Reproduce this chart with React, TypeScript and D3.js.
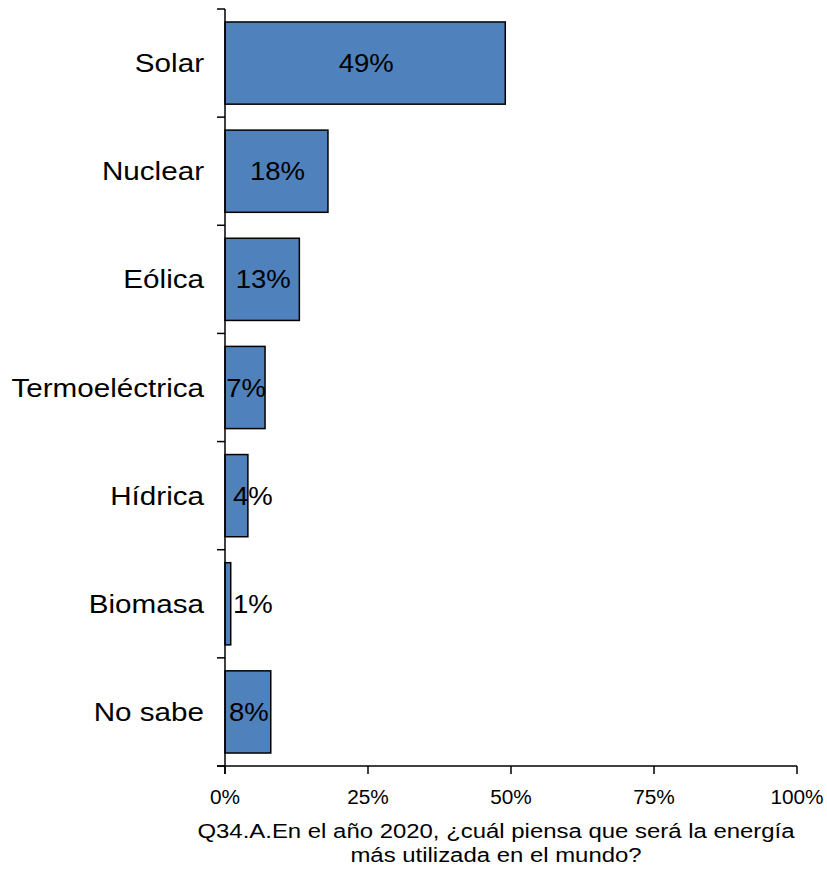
import React from "react";
import * as d3 from "d3";

const categories = ["Solar", "Nuclear", "Eólica", "Termoeléctrica", "Hídrica", "Biomasa", "No sabe"];
const values = [49, 18, 13, 7, 4, 1, 8];
const xTicks = [0, 25, 50, 75, 100];
const titleLines = [
  "Q34.A.En el año 2020, ¿cuál piensa que será la energía",
  "más utilizada en el mundo?",
];

const W = 827;
const H = 869;
const FONT = "'Liberation Sans', Arial, sans-serif";

export default function App() {
  const x = d3.scaleLinear().domain([0, 100]).range([225, 797]);
  const y = d3
    .scaleBand<string>()
    .domain(categories)
    .range([9, 766])
    .paddingInner(0.24)
    .paddingOuter(0.12);
  const step = y.step();
  const bw = y.bandwidth();
  const boundaries = categories.map((c) => (y(c) as number) - (step - bw) / 2);
  boundaries.push(766);
  const x0 = x(0);
  const axisY = 766;
  const catFs = 26;
  const catSx = 1.14;
  const valFs = 25;
  const valSx = 1.1;
  const titleFs = 21;
  const titleSx = 1.14;

  return (
    <svg width={W} height={H} style={{ position: "absolute", left: 0, top: 0, background: "#fff" }} fontFamily={FONT}>
      {/* bars */}
      {categories.map((c, i) => {
        const yy = y(c) as number;
        return (
          <rect
            key={c}
            x={x0}
            y={yy}
            width={x(values[i]) - x0}
            height={bw}
            fill="#4F81BD"
            stroke="#000"
            strokeWidth={1.5}
          />
        );
      })}
      {/* axes */}
      <line x1={x0} x2={x0} y1={boundaries[0]} y2={axisY + 8} stroke="#000" strokeWidth={1.5} />
      <line x1={x0 - 8} x2={x(100)} y1={axisY} y2={axisY} stroke="#000" strokeWidth={1.5} />
      {boundaries.map((b, i) => (
        <line key={"yt" + i} x1={x0 - 8} x2={x0} y1={b} y2={b} stroke="#000" strokeWidth={1.5} />
      ))}
      {xTicks.map((t) => (
        <g key={"xt" + t}>
          <line x1={x(t)} x2={x(t)} y1={axisY} y2={axisY + 8} stroke="#000" strokeWidth={1.5} />
          <text
            transform={`translate(${x(t)},804) scale(1.04,1)`}
            textAnchor="middle"
            fontSize={20}
            fill="#000"
          >
            {t + "%"}
          </text>
        </g>
      ))}
      {/* category labels */}
      {categories.map((c) => {
        const cy = (y(c) as number) + bw / 2 + catFs * 0.35;
        return (
          <text
            key={"cl" + c}
            transform={`translate(204,${cy}) scale(${catSx},1)`}
            textAnchor="end"
            fontSize={catFs}
            fill="#000"
          >
            {c}
          </text>
        );
      })}
      {/* value labels */}
      {categories.map((c, i) => {
        const cy = (y(c) as number) + bw / 2 + valFs * 0.36;
        const barW = x(values[i]) - x0;
        const narrow = barW < 30;
        const lx = narrow ? x0 + 8 : x0 + barW / 2 + 1;
        return (
          <text
            key={"vl" + c}
            transform={`translate(${lx},${cy}) scale(${valSx},1)`}
            textAnchor={narrow ? "start" : "middle"}
            fontSize={valFs}
            fill="#000"
          >
            {values[i] + "%"}
          </text>
        );
      })}
      {/* title */}
      {titleLines.map((t, i) => (
        <text
          key={"tt" + i}
          transform={`translate(496,${838 + i * 24}) scale(${titleSx},1)`}
          textAnchor="middle"
          fontSize={titleFs}
          fill="#000"
        >
          {t}
        </text>
      ))}
    </svg>
  );
}
